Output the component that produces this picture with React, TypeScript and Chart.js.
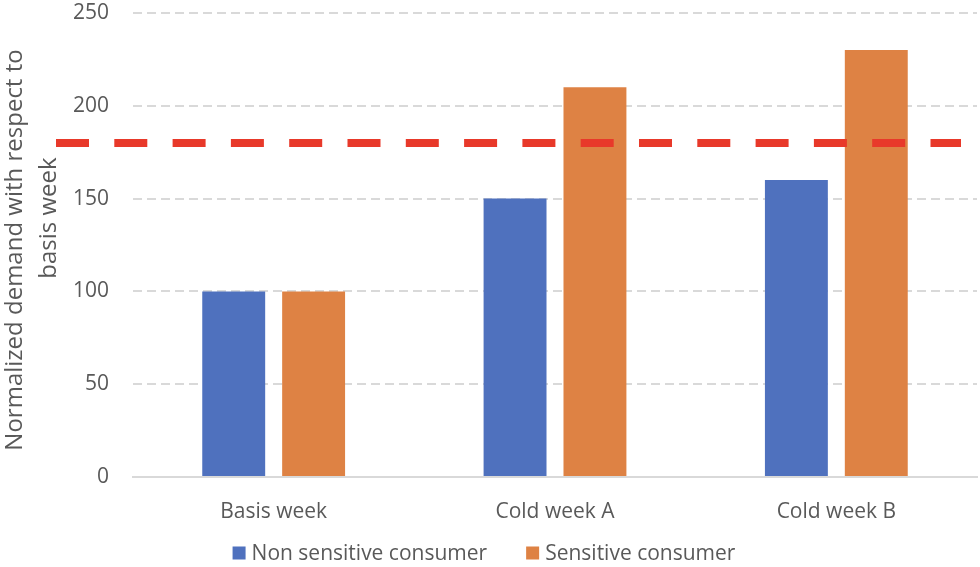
import React, { useEffect, useRef } from "react";
import { Chart, registerables } from "chart.js";

Chart.register(...registerables);

// Weeks compared and normalized demand per consumer type (basis week = 100)
const categories = ["Basis week", "Cold week A", "Cold week B"];
const nonSensitive = [100, 150, 160];
const sensitive = [100, 210, 230];
const seriesNames = ["Non sensitive consumer", "Sensitive consumer"];
const yTicks = [0, 50, 100, 150, 200, 250];
const capacityLimit = 180;
const yTitleLines = ["Normalized demand with respect to", "basis week"];

const FONT = "'Open Sans', sans-serif";
const TEXT = "#595959";
const BLUE = "#4F71BE";
const ORANGE = "#DE8244";
const RED = "#E8392A";
const GRID = "#D9D9D9";

// Dashed limit line drawn over the bars, reaching left past the axis
const limitLine = {
  id: "limitLine",
  afterDatasetsDraw(chart: any) {
    const { ctx, chartArea, scales } = chart;
    const y = scales.y.getPixelForValue(capacityLimit);
    ctx.save();
    ctx.strokeStyle = RED;
    ctx.lineWidth = 8;
    ctx.setLineDash([33, 25.3]);
    ctx.beginPath();
    ctx.moveTo(chartArea.left - 77, y);
    ctx.lineTo(chartArea.right - 16, y);
    ctx.stroke();
    ctx.restore();
  },
};

// Two-line rotated y-axis title
const yTitle = {
  id: "yTitle",
  afterDraw(chart: any) {
    const { ctx, chartArea } = chart;
    const mid = (chartArea.top + chartArea.bottom) / 2;
    ctx.save();
    ctx.fillStyle = TEXT;
    ctx.font = `24px ${FONT}`;
    ctx.textAlign = "center";
    ctx.textBaseline = "middle";
    const spots = [
      { x: 15, y: mid + 5 },
      { x: 49, y: mid - 27 },
    ];
    yTitleLines.forEach((line, i) => {
      ctx.save();
      ctx.translate(spots[i].x, spots[i].y);
      ctx.rotate(-Math.PI / 2);
      ctx.fillText(line, 0, 0);
      ctx.restore();
    });
    ctx.restore();
  },
};

// Legend row under the category labels
const bottomLegend = {
  id: "bottomLegend",
  afterDraw(chart: any) {
    const { ctx } = chart;
    const y = 553;
    const box = 13;
    const boxGap = 6;
    const itemGap = 39;
    ctx.save();
    ctx.font = `21px ${FONT}`;
    ctx.textBaseline = "middle";
    const items = chart.data.datasets.map((ds: any) => ({
      label: ds.label,
      color: ds.backgroundColor,
      w: ctx.measureText(ds.label).width,
    }));
    const total =
      items.reduce((s: number, it: any) => s + box + boxGap + it.w, 0) +
      itemGap * (items.length - 1);
    let x = chart.width / 2 - 6 - total / 2;
    items.forEach((it: any) => {
      ctx.fillStyle = it.color;
      ctx.fillRect(x, y - box / 2, box, box);
      x += box + boxGap;
      ctx.fillStyle = TEXT;
      ctx.fillText(it.label, x, y + 1);
      x += it.w + itemGap;
    });
    ctx.restore();
  },
};

export default function App() {
  const canvasRef = useRef<HTMLCanvasElement | null>(null);

  useEffect(() => {
    if (!canvasRef.current) return;
    const chart = new Chart(canvasRef.current, {
      type: "bar",
      data: {
        labels: categories,
        datasets: [
          {
            label: seriesNames[0],
            data: nonSensitive,
            backgroundColor: BLUE,
            categoryPercentage: 0.568,
            barPercentage: 0.7875,
          },
          {
            label: seriesNames[1],
            data: sensitive,
            backgroundColor: ORANGE,
            categoryPercentage: 0.568,
            barPercentage: 0.7875,
          },
        ],
      },
      options: {
        responsive: false,
        animation: false,
        layout: { padding: { top: 13, right: 3, bottom: 40, left: 0 } },
        plugins: {
          legend: { display: false },
          tooltip: { enabled: false },
        },
        scales: {
          x: {
            grid: { display: false, drawTicks: false },
            border: { display: true, color: GRID, width: 2 },
            ticks: {
              color: TEXT,
              font: { family: FONT, size: 21 },
              padding: 22,
            },
            afterFit(scale: any) {
              scale.height = 50;
            },
          },
          y: {
            min: 0,
            max: 250,
            afterBuildTicks(scale: any) {
              scale.ticks = yTicks.map((v) => ({ value: v }));
            },
            grid: {
              color: GRID,
              lineWidth: 2,
              drawTicks: true,
              tickLength: 24,
              tickColor: "rgba(0,0,0,0)",
            },
            border: { display: false, dash: [9, 5] },
            ticks: {
              color: TEXT,
              font: { family: FONT, size: 21 },
              padding: 0,
            },
            afterFit(scale: any) {
              scale.width = 133;
            },
          },
        },
      },
      plugins: [limitLine, yTitle, bottomLegend],
    });
    return () => chart.destroy();
  }, []);

  return (
    <div style={{ position: "fixed", left: 0, top: 0, width: 980, height: 567, background: "#fff" }}>
      <canvas ref={canvasRef} width={980} height={567} style={{ display: "block" }} />
    </div>
  );
}
